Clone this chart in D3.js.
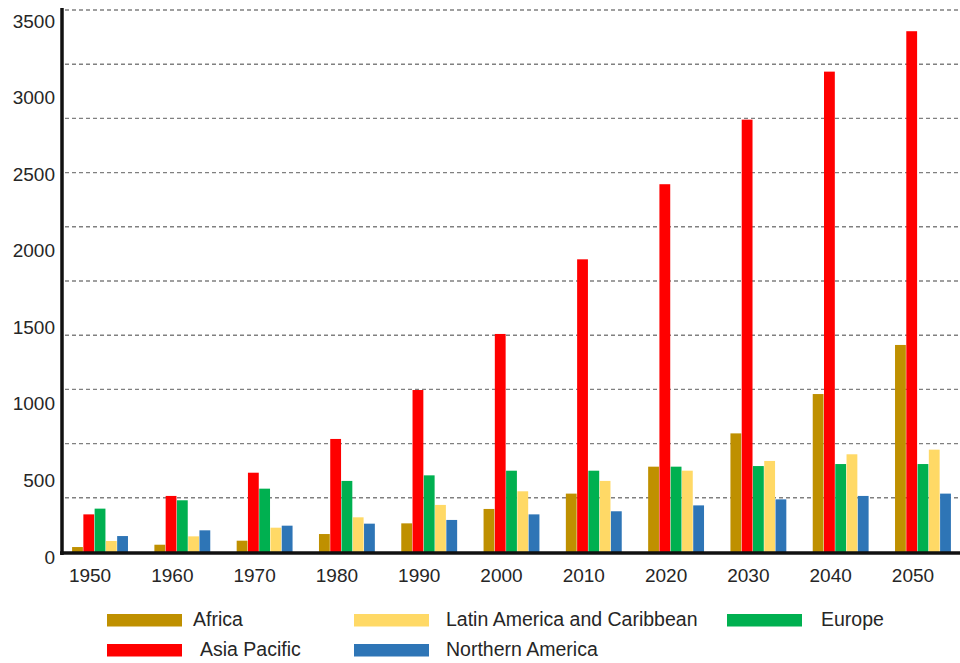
<!DOCTYPE html>
<html>
<head>
<meta charset="utf-8">
<script src="https://cdn.jsdelivr.net/npm/d3@7"></script>
<style>
  html, body { margin: 0; padding: 0; background: #fff; }
  svg { display: block; font-family: "Liberation Sans", Arial, sans-serif; }
</style>
</head>
<body>
<svg id="chart" width="960" height="663"></svg>
<script>
const years = ["1950","1960","1970","1980","1990","2000","2010","2020","2030","2040","2050"];
const seriesNames = ["Africa","Asia Pacific","Europe","Latin America and Caribbean","Northern America"];
const colors = ["#BF9000","#FF0000","#00B050","#FFD966","#2E75B6"];
const africa          = [32, 47, 73, 116, 185, 278, 377, 551, 766, 1020, 1337];
const asiaPacific     = [243, 362, 512, 730, 1046, 1408, 1890, 2375, 2792, 3102, 3363];
const europe          = [280, 334, 409, 459, 495, 525, 525, 551, 555, 568, 568];
const latinAmerica    = [71, 101, 157, 224, 304, 392, 459, 525, 588, 631, 661];
const northernAmerica = [103, 140, 170, 183, 207, 243, 263, 301, 340, 362, 377];
const yTickLabels = [0, 500, 1000, 1500, 2000, 2500, 3000, 3500];
const gridValues = [350, 700, 1050, 1400, 1750, 2100, 2450, 2800, 3150, 3500];

const seriesValues = [africa, asiaPacific, europe, latinAmerica, northernAmerica];

const svg = d3.select("#chart");
const x0 = 63, x1 = 960, yBase = 552, yTop = 10;

const y = d3.scaleLinear().domain([0, 3500]).range([yBase, yTop]);
const yLab = d3.scaleLinear().domain([0, 3500]).range([557, 21]);
const x = d3.scaleBand().domain(years).range([x0, x1]).paddingInner(0.31).paddingOuter(0.105);
const xs = d3.scaleBand().domain(seriesNames).range([0, x.bandwidth()]).padding(0.04);

// gridlines
svg.append("g").selectAll("line").data(gridValues).join("line")
  .attr("x1", x0 + 2).attr("x2", x1)
  .attr("y1", d => y(d)).attr("y2", d => y(d))
  .attr("stroke", "#808080").attr("stroke-width", 1.4)
  .attr("stroke-dasharray", "4,3");

// bars
const groups = svg.append("g").selectAll("g").data(years).join("g")
  .attr("transform", d => `translate(${x(d)},0)`);
groups.selectAll("rect").data((yr, i) => seriesNames.map((s, k) => ({s, k, v: seriesValues[k][i]})))
  .join("rect")
  .attr("x", d => xs(d.s)).attr("width", xs.bandwidth())
  .attr("y", d => y(d.v)).attr("height", d => yBase - y(d.v))
  .attr("fill", d => colors[d.k]);

// y axis labels
const yAxis = d3.axisLeft(yLab).tickValues(yTickLabels).tickSize(0).tickPadding(0).tickFormat(d3.format("d"));
const yg = svg.append("g").attr("transform", "translate(55,0)").call(yAxis);
yg.select(".domain").remove();
yg.selectAll("text").attr("font-size", 19).attr("fill", "#262626")
  .attr("font-family", "Liberation Sans, Arial, sans-serif");

// x axis labels
const xAxis = d3.axisBottom(x).tickSize(0).tickPadding(0);
const xg = svg.append("g").attr("transform", "translate(-10,568)").call(xAxis);
xg.select(".domain").remove();
xg.selectAll("text").attr("font-size", 19).attr("fill", "#262626")
  .attr("font-family", "Liberation Sans, Arial, sans-serif");

// axis lines
svg.append("line").attr("x1", 62).attr("x2", 62).attr("y1", 8).attr("y2", 555)
  .attr("stroke", "#111").attr("stroke-width", 3.5);
svg.append("line").attr("x1", 60).attr("x2", x1).attr("y1", 553).attr("y2", 553)
  .attr("stroke", "#111").attr("stroke-width", 3.5);

// legend
const legendItems = [
  {name: "Africa", k: 0, col: 0, row: 0, dx: 0},
  {name: "Latin America and Caribbean", k: 3, col: 1, row: 0, dx: 0},
  {name: "Europe", k: 2, col: 2, row: 0, dx: 0},
  {name: "Asia Pacific", k: 1, col: 0, row: 1, dx: 7},
  {name: "Northern America", k: 4, col: 1, row: 1, dx: 0}
];
const colX = [107, 354, 727];
const textX = [193, 446, 821];
const rowY = [614, 644];
const lg = svg.append("g");
lg.selectAll("rect").data(legendItems).join("rect")
  .attr("x", d => colX[d.col]).attr("y", d => rowY[d.row])
  .attr("width", 75).attr("height", 12.5)
  .attr("fill", d => colors[d.k]);
lg.selectAll("text").data(legendItems).join("text")
  .attr("x", d => textX[d.col] + d.dx).attr("y", d => rowY[d.row] + 7)
  .attr("dominant-baseline", "middle")
  .attr("font-size", 19.5).attr("fill", "#262626")
  .text(d => d.name);
</script>
</body>
</html>
